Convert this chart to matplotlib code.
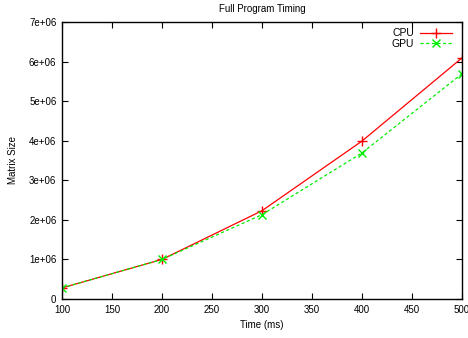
import matplotlib
matplotlib.use('Agg')
import matplotlib.pyplot as plt
from matplotlib.ticker import FuncFormatter

plt.rcParams['font.family'] = ['Liberation Sans', 'DejaVu Sans']

# data
time_ms = [100, 200, 300, 400, 500]
cpu = [0.28e6, 1.0e6, 2.23e6, 3.99e6, 6.09e6]
gpu = [0.28e6, 1.0e6, 2.13e6, 3.69e6, 5.69e6]

fig = plt.figure(figsize=(4.68, 3.38), dpi=100)
ax = fig.add_axes([0.1325, 0.1154, 0.8545, 0.8196])

ax.plot(time_ms, cpu, color='#ff0000', lw=0.9, marker='+', ms=7, mew=1.0, label='CPU')
ax.plot(time_ms, gpu, color='#00ee00', lw=0.9, ls=(0, (2.5, 2)), marker='x', ms=6, mew=1.0, label='GPU')

ax.set_xlim(100, 500)
ax.set_ylim(0, 7e6)
ax.set_xticks(range(100, 501, 50))
ax.set_yticks([i * 1e6 for i in range(8)])

def sci(v, pos):
    if v == 0:
        return '0'
    return '%de+06' % round(v / 1e6)

ax.yaxis.set_major_formatter(FuncFormatter(sci))
ax.tick_params(direction='in', top=True, right=True, length=4, width=0.8, labelsize=7, pad=4)
for s in ax.spines.values():
    s.set_linewidth(1.0)

ax.set_title('Full Program Timing', fontsize=7, pad=7)
ax.set_xlabel('Time (ms)', fontsize=7, labelpad=4)
ax.set_ylabel('Matrix Size', fontsize=7, labelpad=8)

ax.legend(loc='upper right', frameon=False, markerfirst=False, fontsize=7.5,
          handlelength=3.0, handletextpad=0.6, labelspacing=0.05,
          borderaxespad=0.2, bbox_to_anchor=(0.99, 1.0))

fig.savefig('out.png', dpi=100)
